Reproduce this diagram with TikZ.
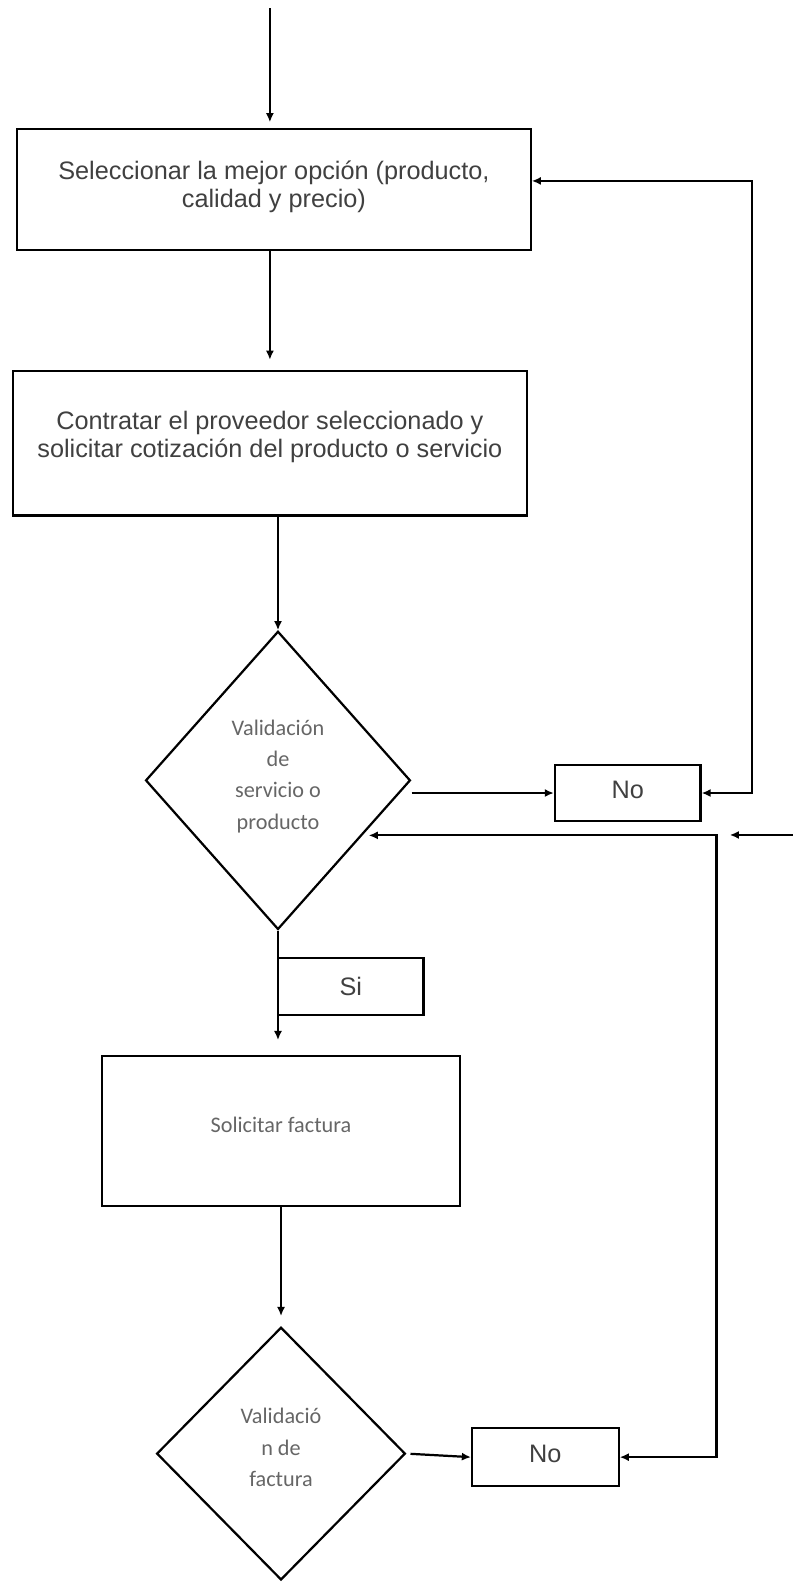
\documentclass[tikz,border=0pt]{standalone}
\usepackage{fontspec}
\setmainfont{Liberation Sans}
\newfontfamily\calibri{Carlito}
\usetikzlibrary{calc,arrows.meta,shapes.geometric}

\tikzset{
	caja/.style={draw, line width=1.1pt, inner sep=0pt, align=center, text=black!75, font=\fontsize{12.5}{14}\selectfont},
	rombo/.style={diamond, draw, line width=1.1pt, inner sep=0pt, align=center, text=black!60, font=\calibri\fontsize{11}{15.5}\selectfont},
	flecha/.style={line width=1.1pt, -{Latex[length=4.5pt,width=4pt]}},
	doble/.style={line width=1.1pt, {Latex[length=4.5pt,width=4pt]}-{Latex[length=4.5pt,width=4pt]}},
}

\begin{document}
\begin{tikzpicture}[x=0.5pt, y=-0.5pt]
			%%%%% START %%%%%
			
			\useasboundingbox (0, 0) rectangle (784, 1568);
			
			\node[caja, minimum width=254pt, minimum height=59.5pt] (selec) at (271, 187.5) {Seleccionar la mejor opción (producto,\\calidad y precio)\\[-9pt]\mbox{}};
			\node[caja, minimum width=254pt, minimum height=71.5pt] (contratar) at (267, 438.5) {Contratar el proveedor seleccionado y\\solicitar cotización del producto o servicio\\[-5pt]\mbox{}};
			
			\node[rombo, minimum width=131pt, minimum height=147.5pt] (valserv) at (275, 772) {Validación\\de\\servicio o\\producto\\[-9.5pt]\mbox{}};
			\node[caja, minimum width=72pt, minimum height=27.5pt] (no1) at (621, 784.5) {No\\[-11pt]\mbox{}};
			\node[caja, minimum width=72pt, minimum height=28pt] (si) at (347, 976) {Si};
			
			\node[caja, font=\calibri\fontsize{11}{14}\selectfont, text=black!60, minimum width=177pt, minimum height=74pt] (factura) at (278, 1119) {Solicitar factura\\[-8pt]\mbox{}};
			
			\node[rombo, minimum width=123pt, minimum height=125pt] (valfact) at (278, 1438) {Validació\\n de\\factura\\[-9.5pt]\mbox{}};
			\node[caja, minimum width=72.5pt, minimum height=28.5pt] (no2) at (539.5, 1441.5) {No\\[-11pt]\mbox{}};
			
			\coordinate (inicio) at (267, 8);
			\coordinate (borde) at (784, 826);
			\coordinate (puntaborde) at (722, 826);
			
			\draw[flecha, shorten >=3pt] (inicio) -- (inicio |- selec.north);
			\draw[flecha, shorten >=5pt] (contratar.north |- selec.south) -- (contratar.north);
			\draw[flecha] (valserv.north |- contratar.south) -- (valserv.north);
			\draw[flecha] (valserv.east |- no1.west) -- (no1.west);
			\draw[doble] (no1.east) -| ($(selec.east)+(218,-8.5)$) -- ($(selec.east)+(0,-8.5)$);
			
			\draw[doble, shorten >=3pt] (no2.east) -| ($(valserv.-33)+(350,0)$) -- (valserv.-33);
			\draw[flecha] (borde) -- (puntaborde);
			
			\draw[flecha, shorten >=7.5pt] (valserv.south) -- (valserv.south |- factura.north);
			\draw[flecha, shorten >=5pt] (factura.south) -- (valfact.north);
			\draw[flecha, shorten <=2pt] (valfact.east) -- (no2.west);
			
			%%%%% END %%%%%
\end{tikzpicture}
\end{document}
